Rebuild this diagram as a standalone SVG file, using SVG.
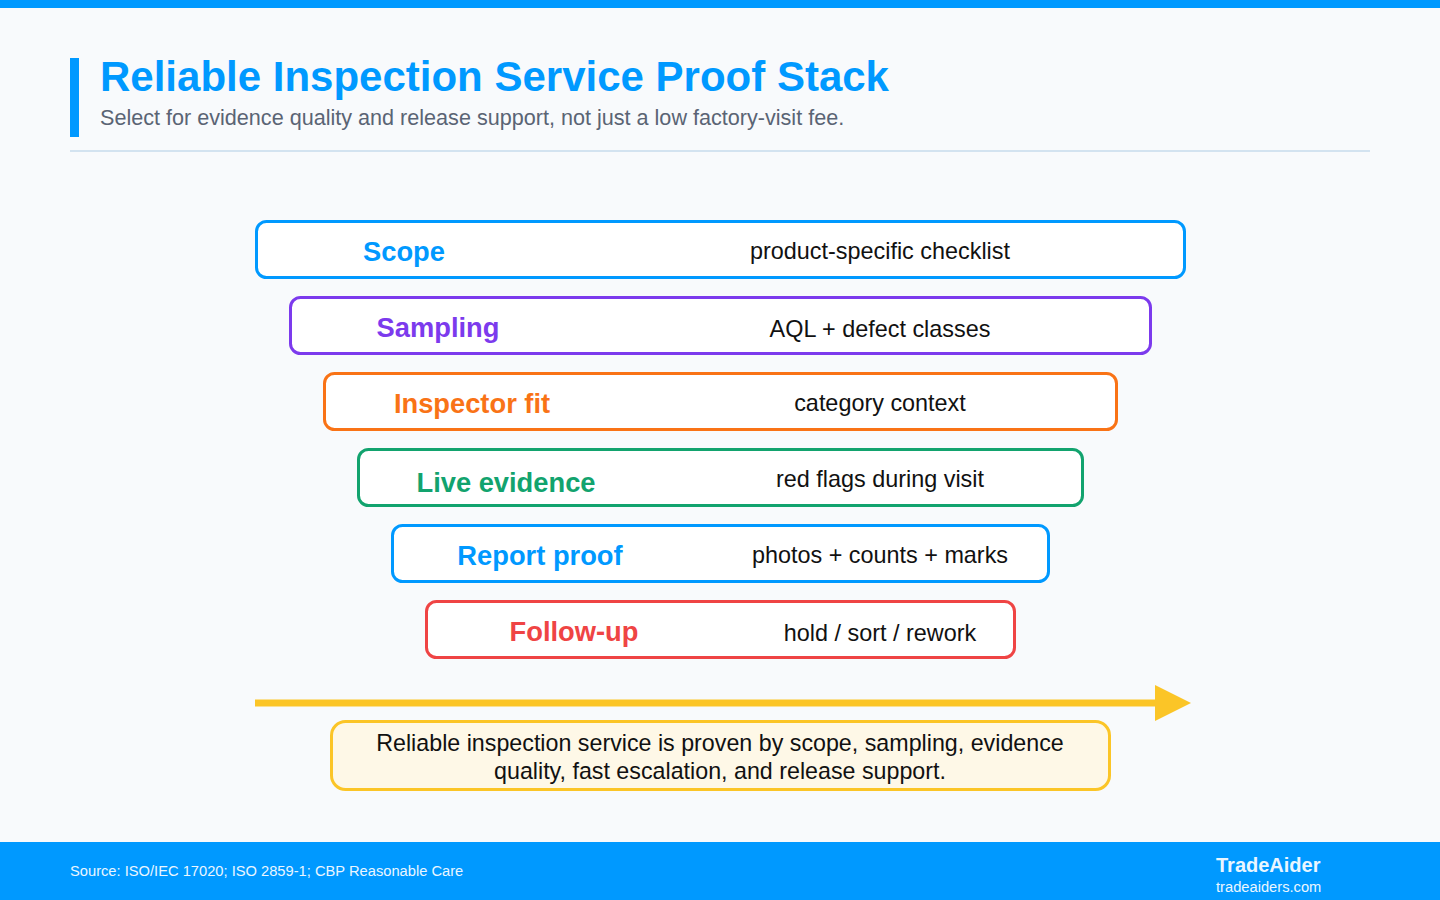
<svg xmlns="http://www.w3.org/2000/svg" width="1440" height="900" viewBox="0 0 1440 900">
<defs>
<style>
.bg{fill:#f8fafc}
.box{fill:#ffffff;stroke-width:3}
.lbl{font-family:"Liberation Sans",Arial,sans-serif;font-weight:700;font-size:27.3px;text-anchor:middle;dominant-baseline:central}
.val{font-family:"Liberation Sans",Arial,sans-serif;font-size:23.4px;fill:#111111;text-anchor:middle;dominant-baseline:central}
.title{font-family:"Liberation Sans",Arial,sans-serif;font-weight:700;font-size:42px;fill:#0099ff}
.sub{font-family:"Liberation Sans",Arial,sans-serif;font-size:21.6px;fill:#5a6474}
.note{font-family:"Liberation Sans",Arial,sans-serif;font-size:23.25px;fill:#111111;text-anchor:middle}
.foot{font-family:"Liberation Sans",Arial,sans-serif;fill:#eaf6ff}
</style>
</defs>
<rect class="bg" x="0" y="0" width="1440" height="900"/>
<rect x="0" y="0" width="1440" height="8" fill="#0099ff"/>
<g id="header">
<rect x="70" y="58" width="9" height="79" fill="#0099ff"/>
<text class="title" x="100" y="91">Reliable Inspection Service Proof Stack</text>
<text class="sub" x="100" y="125">Select for evidence quality and release support, not just a low factory-visit fee.</text>
<line x1="70" y1="151" x2="1370" y2="151" stroke="#d3e3f0" stroke-width="2"/>
</g>
<g id="node-scope">
<rect class="box" x="256.5" y="221.5" width="928" height="56" rx="10" stroke="#0099ff"/>
<text class="lbl" x="404" y="251" fill="#0099ff">Scope</text>
<text class="val" x="880" y="251">product-specific checklist</text>
</g>
<g id="node-sampling">
<rect class="box" x="290.5" y="297.5" width="860" height="56" rx="10" stroke="#7c3aed"/>
<text class="lbl" x="438" y="327" fill="#7c3aed">Sampling</text>
<text class="val" x="880" y="329">AQL + defect classes</text>
</g>
<g id="node-inspector">
<rect class="box" x="324.5" y="373.5" width="792" height="56" rx="10" stroke="#f97316"/>
<text class="lbl" x="472" y="403" fill="#f97316">Inspector fit</text>
<text class="val" x="880" y="403">category context</text>
</g>
<g id="node-live">
<rect class="box" x="358.5" y="449.5" width="724" height="56" rx="10" stroke="#12a36e"/>
<text class="lbl" x="506" y="482" fill="#12a36e">Live evidence</text>
<text class="val" x="880" y="479">red flags during visit</text>
</g>
<g id="node-report">
<rect class="box" x="392.5" y="525.5" width="656" height="56" rx="10" stroke="#0099ff"/>
<text class="lbl" x="540" y="555" fill="#0099ff">Report proof</text>
<text class="val" x="880" y="555">photos + counts + marks</text>
</g>
<g id="node-followup">
<rect class="box" x="426.5" y="601.5" width="588" height="56" rx="10" stroke="#ef4444"/>
<text class="lbl" x="574" y="631" fill="#ef4444">Follow-up</text>
<text class="val" x="880" y="633">hold / sort / rework</text>
</g>
<g id="connectors">
<line x1="255" y1="703" x2="1156" y2="703" stroke="#fbc527" stroke-width="7"/>
<path d="M1155,685 L1191,703 L1155,721 Z" fill="#fbc527"/>
</g>
<g id="node-summary">
<rect x="331.5" y="721.5" width="778" height="68" rx="14" fill="#fef8e7" stroke="#fbc527" stroke-width="3"/>
<text class="note" x="720" y="751">Reliable inspection service is proven by scope, sampling, evidence</text>
<text class="note" x="720" y="779">quality, fast escalation, and release support.</text>
</g>
<g id="footer">
<rect x="0" y="842" width="1440" height="58" fill="#0099ff"/>
<text class="foot" x="70" y="876" font-size="14.7">Source: ISO/IEC 17020; ISO 2859-1; CBP Reasonable Care</text>
<text class="foot" x="1216" y="872" font-size="20" font-weight="700" fill="#ffffff">TradeAider</text>
<text class="foot" x="1216" y="892" font-size="14.7">tradeaiders.com</text>
</g>
</svg>
